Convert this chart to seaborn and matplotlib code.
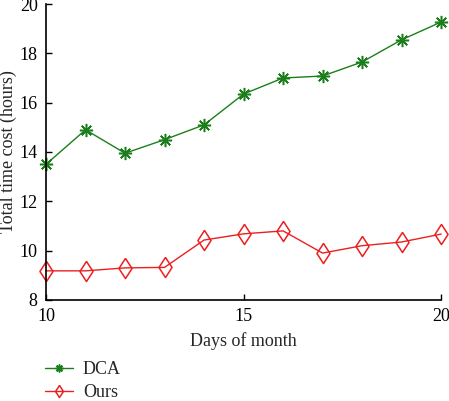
import pandas as pd
import seaborn as sns
import matplotlib.pyplot as plt

days = [10, 11, 12, 13, 14, 15, 16, 17, 18, 19, 20]
dca = [13.5, 14.9, 13.95, 14.5, 15.1, 16.35, 17.0, 17.08, 17.65, 18.55, 19.27]
ours = [9.18, 9.18, 9.3, 9.32, 10.43, 10.68, 10.8, 9.9, 10.2, 10.35, 10.67]
series = ['DCA', 'Ours']
colors = ['#1a7f1a', '#ec1f1f']

# tall thin diamond, like the matlab one
diamond = [(0, 1), (0.65, 0), (0, -1), (-0.65, 0), (0, 1)]
markers = [(8, 2, 0), diamond]
msizes = [9.5, 14.5]


def main():
    sns.set_style('ticks')
    plt.rcParams['font.family'] = ['Liberation Serif', 'DejaVu Serif']
    plt.rcParams['xtick.direction'] = 'in'
    plt.rcParams['ytick.direction'] = 'in'

    fig = plt.figure(figsize=(4.49, 4.01), dpi=100)
    ax = fig.add_axes([0.1025, 0.252, 0.88, 0.738])

    for vals, name, c, m, ms in zip([dca, ours], series, colors, markers, msizes):
        df = pd.DataFrame({'day': days, 'cost': vals})
        sns.lineplot(data=df, x='day', y='cost', color=c, marker=m,
                     markersize=ms, markerfacecolor='none', markeredgecolor=c,
                     markeredgewidth=1.1, linewidth=1.0, ax=ax, label=name,
                     legend=False, clip_on=False)

    ax.set_xlim(10, 20)
    ax.set_ylim(8, 20)
    ax.set_xticks([10, 15, 20])
    ax.set_yticks([8, 10, 12, 14, 16, 18, 20])
    ax.tick_params(labelsize=13, length=4, width=1, colors='black', pad=6)
    ax.set_xlabel('Days of month', fontsize=13, labelpad=5)
    ax.set_ylabel('Total time cost (hours)', fontsize=13)
    ax.yaxis.set_label_coords(-0.073, 0.5)
    sns.despine(ax=ax)
    for s in ['left', 'bottom']:
        ax.spines[s].set_color('black')
        ax.spines[s].set_linewidth(1.2)

    handles = [l for l in ax.lines[:2]]
    fig.legend(handles, series, loc='upper left', bbox_to_anchor=(0.1, 0.1),
               frameon=False, fontsize=13, handlelength=1.55, handletextpad=0.55,
               labelspacing=0.33, borderpad=0, borderaxespad=0, markerscale=0.6)

    fig.savefig('out.png', dpi=100)


if __name__ == '__main__':
    main()
